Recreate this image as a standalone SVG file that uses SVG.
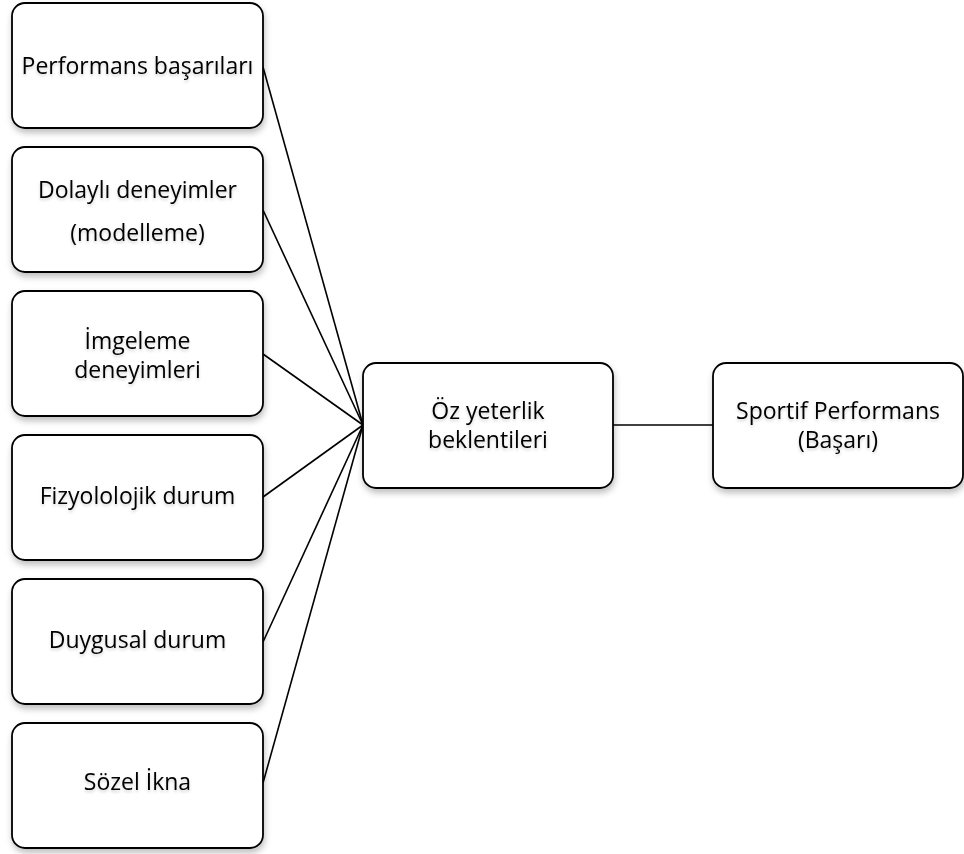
<svg xmlns="http://www.w3.org/2000/svg" width="964" height="854" viewBox="0 0 964 854">
  <style>
    .box { fill: #ffffff; stroke: #000000; stroke-width: 1.8; filter: url(#shadow); }
    .lbl { font-family: "Open Sans", "Noto Sans", "DejaVu Sans", sans-serif; font-size: 23px; fill: #000000; text-anchor: middle; filter: url(#tshadow); }
    .conn { stroke: #000000; stroke-width: 1.6; fill: none; }
  </style>
  <defs>
    <filter id="shadow" x="-10%" y="-10%" width="125%" height="130%">
      <feDropShadow dx="1" dy="4" stdDeviation="3" flood-color="#000000" flood-opacity="0.25"/>
    </filter>
    <filter id="tshadow" x="-10%" y="-30%" width="120%" height="170%">
      <feDropShadow dx="0" dy="2" stdDeviation="1.5" flood-color="#000000" flood-opacity="0.18"/>
    </filter>
  </defs>
  <rect width="964" height="854" fill="#ffffff"/>

  <g id="connectors">
    <line class="conn" x1="263" y1="67" x2="363" y2="425"/>
    <line class="conn" x1="263" y1="210" x2="363" y2="425"/>
    <line class="conn" x1="263" y1="354" x2="363" y2="425"/>
    <line class="conn" x1="263" y1="497" x2="363" y2="425"/>
    <line class="conn" x1="263" y1="642" x2="363" y2="425"/>
    <line class="conn" x1="263" y1="783" x2="363" y2="425"/>
    <line class="conn" x1="613" y1="425" x2="713" y2="425"/>
  </g>

  <g id="node-performans">
    <rect class="box" x="12" y="3" width="251" height="125" rx="13"/>
    <text class="lbl" x="137.5" y="74">Performans başarıları</text>
  </g>
  <g id="node-dolayli">
    <rect class="box" x="12" y="147" width="251" height="125" rx="13"/>
    <text class="lbl" x="137.5" y="198">Dolaylı deneyimler</text>
    <text class="lbl" x="137.5" y="241">(modelleme)</text>
  </g>
  <g id="node-imgeleme">
    <rect class="box" x="12" y="291" width="251" height="125" rx="13"/>
    <text class="lbl" x="137.5" y="349">İmgeleme</text>
    <text class="lbl" x="137.5" y="378">deneyimleri</text>
  </g>
  <g id="node-fizyolojik">
    <rect class="box" x="12" y="435" width="251" height="125" rx="13"/>
    <text class="lbl" x="137.5" y="504">Fizyololojik durum</text>
  </g>
  <g id="node-duygusal">
    <rect class="box" x="12" y="579" width="251" height="125" rx="13"/>
    <text class="lbl" x="137.5" y="648">Duygusal durum</text>
  </g>
  <g id="node-sozel">
    <rect class="box" x="12" y="723" width="251" height="125" rx="13"/>
    <text class="lbl" x="137.5" y="790">Sözel İkna</text>
  </g>
  <g id="node-ozyeterlik">
    <rect class="box" x="363" y="363" width="250" height="125" rx="13"/>
    <text class="lbl" x="488" y="419">Öz yeterlik</text>
    <text class="lbl" x="488" y="448">beklentileri</text>
  </g>
  <g id="node-sportif">
    <rect class="box" x="713" y="363" width="250" height="125" rx="13"/>
    <text class="lbl" x="838" y="419">Sportif Performans</text>
    <text class="lbl" x="838" y="448">(Başarı)</text>
  </g>
</svg>
